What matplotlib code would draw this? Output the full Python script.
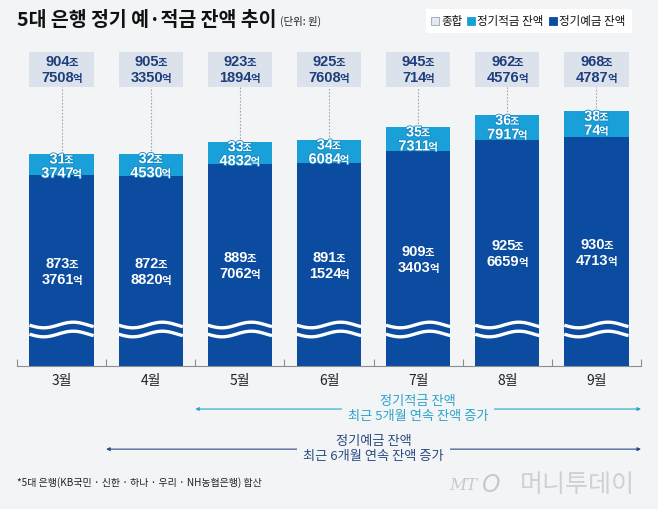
import numpy as np
import matplotlib

matplotlib.use('Agg')
import matplotlib.pyplot as plt
from matplotlib import font_manager, transforms
from matplotlib.patches import Rectangle
import matplotlib.patheffects as pe

# ---- data (조 / 억) ----
months = ['3월', '4월', '5월', '6월', '7월', '8월', '9월']
deposit_jo = [873, 872, 889, 891, 909, 925, 930]
deposit_eok = [3761, 8820, 7062, 1524, 3403, 6659, 4713]
saving_jo = [31, 32, 33, 34, 35, 36, 38]
saving_eok = [3747, 4530, 4832, 6084, 7311, 7917, 74]
total_jo = [904, 905, 923, 925, 945, 962, 968]
total_eok = [7508, 3350, 1894, 7608, 714, 4576, 4787]
saving_streak = 5
deposit_streak = 6

# ---- style ----
BG = '#f3f4f6'
DARK = '#0b4ca1'
LIGHT = '#19a0d8'
BOXC = '#dbe2eb'
NAVY = '#1d3d7b'
TEAL = '#2aa4c9'
ARROW2 = '#2a4a82'
W, H = 658, 509
BASE, YTOP = 589, 1075  # broken axis: bars start at BASE

plt.rcParams['font.family'] = ['Noto Sans CJK KR', 'DejaVu Sans']
names = {f.name for f in font_manager.fontManager.ttflist}
NUM_FONT = 'Liberation Sans Narrow' if 'Liberation Sans Narrow' in names else 'Liberation Sans'
NUM_SIZE = 11.5 if NUM_FONT == 'Liberation Sans Narrow' else 10.5

dep = np.array(deposit_jo) + np.array(deposit_eok) / 10000
sav = np.array(saving_jo) + np.array(saving_eok) / 10000
tot = dep + sav
x = np.arange(len(months))
bw = 0.72

fig = plt.figure(figsize=(W / 100, H / 100), dpi=100, facecolor=BG)
ax = fig.add_axes([17 / W, 1 - 366 / H, 624 / W, 326 / H])
ax.set_facecolor('none')
ax.set_xlim(-0.5, len(months) - 0.5)
ax.set_ylim(BASE, YTOP)
renderer = fig.canvas.get_renderer()


def put_pair(x0, y0, num, unit, trans, color, off_px=0, usize=7.5, effects=None):
    # number + small unit, centred together on (x0, y0)
    t1 = ax.text(x0, y0, num, fontsize=NUM_SIZE, family=NUM_FONT, weight='bold', color=color,
                 ha='left', va='baseline', clip_on=False)
    t2 = ax.text(x0, y0, unit, fontsize=usize, weight='bold', color=color,
                 ha='left', va='baseline', clip_on=False)
    w1 = t1.get_window_extent(renderer).width - 1.5
    w2 = t2.get_window_extent(renderer).width
    dy = (off_px - 0.36 * NUM_SIZE * 100 / 72) / 100
    t1.set_transform(trans + transforms.ScaledTranslation(-(w1 + w2) / 200, dy, fig.dpi_scale_trans))
    t2.set_transform(trans + transforms.ScaledTranslation((w1 - w2) / 200, dy, fig.dpi_scale_trans))
    if effects:
        t1.set_path_effects(effects)
        t2.set_path_effects(effects)


# bars
ax.bar(x, dep - BASE, bottom=BASE, width=bw, color=DARK, zorder=2)
ax.bar(x, sav, bottom=dep, width=bw, color=LIGHT, zorder=2)

# wavy break marks
ppu = 326 / (YTOP - BASE)
u = np.linspace(0, 1, 80)
for i in x:
    for off in (41, 32):
        ys = BASE + (off + 2.8 * np.sin(2 * np.pi * (u - 0.45) / 0.92)) / ppu
        ax.plot(i - bw / 2 + u * bw, ys, color='white', lw=2.4, solid_capstyle='butt', zorder=3)

# total boxes + dotted leaders
blend = transforms.blended_transform_factory(ax.transData, ax.transAxes)
for i in x:
    ax.add_patch(Rectangle((i - bw / 2, 0.856), bw, 0.107, transform=blend,
                           facecolor=BOXC, edgecolor='none', clip_on=False))
    ax.plot([i, i], [(tot[i] - BASE) / (YTOP - BASE), 0.856], transform=blend,
            color='#a3a7ad', lw=0.8, ls=(0, (1.5, 1.5)), zorder=1)
    put_pair(i, 0.936, str(total_jo[i]), '조', blend, NAVY)
    put_pair(i, 0.887, str(total_eok[i]), '억', blend, NAVY)

# value labels in bars
glow = [pe.withStroke(linewidth=1.2, foreground='#1487c2')]
for i in x:
    put_pair(i, tot[i], str(saving_jo[i]), '조', ax.transData, 'white', off_px=-4, effects=glow)
    put_pair(i, tot[i], str(saving_eok[i]), '억', ax.transData, 'white', off_px=-18, effects=glow)
    mid = (BASE + dep[i]) / 2
    put_pair(i, mid, str(deposit_jo[i]), '조', ax.transData, 'white', off_px=8)
    put_pair(i, mid, str(deposit_eok[i]), '억', ax.transData, 'white', off_px=-8)

# axis
for s in ['top', 'right', 'left']:
    ax.spines[s].set_visible(False)
ax.spines['bottom'].set_color('#8a8d92')
ax.spines['bottom'].set_linewidth(0.8)
ax.set_yticks([])
ax.set_xticks(np.arange(len(months) + 1) - 0.5)
ax.set_xticklabels([])
ax.tick_params(axis='x', direction='in', length=5, color='#8a8d92', width=0.8)
ax.set_xticks(x, minor=True)
ax.set_xticklabels(months, minor=True, fontsize=10, color='#222222')
ax.tick_params(axis='x', which='minor', length=0, pad=6)

# streak arrows
for streak, ypos, col, txt in [
        (saving_streak, -0.132, TEAL, '정기적금 잔액\n최근 {}개월 연속 잔액 증가'),
        (deposit_streak, -0.255, ARROW2, '정기예금 잔액\n최근 {}개월 연속 잔액 증가')]:
    x0 = len(months) - streak - 0.5
    x1 = len(months) - 0.5
    ax.annotate('', xy=(x1, ypos), xytext=(x0, ypos), xycoords=blend, textcoords=blend,
                arrowprops=dict(arrowstyle='<|-|>', color=col, lw=0.8, mutation_scale=5,
                                shrinkA=0, shrinkB=0), annotation_clip=False)
    ax.text((x0 + x1) / 2, ypos, txt.format(streak), transform=blend, ha='center', va='center',
            fontsize=9.5, color=col, linespacing=1.25,
            bbox=dict(boxstyle='square,pad=0.45', facecolor=BG, edgecolor='none'))

# title
t = fig.text(17 / W, 1 - 20 / H, '5대 은행 정기 예·적금 잔액 추이', fontsize=14, weight='bold',
             color='#111111', va='center', ha='left')
tw = t.get_window_extent(renderer).width
fig.text((17 + tw + 4) / W, 1 - 21 / H, '(단위: 원)', fontsize=7.5, color='#222222', va='center')

# legend
fig.patches.append(Rectangle((426 / W, 1 - 33 / H), 206 / W, 24 / H, transform=fig.transFigure,
                             facecolor='white', edgecolor='none'))
lx = 431
for lab, fc, ec in [('종합', '#e3e9f2', '#9aa3ae'), ('정기적금 잔액', LIGHT, LIGHT), ('정기예금 잔액', DARK, DARK)]:
    fig.patches.append(Rectangle((lx / W, 1 - 25 / H), 8 / W, 8 / H, transform=fig.transFigure,
                                 facecolor=fc, edgecolor=ec, lw=0.6))
    lt = fig.text((lx + 10) / W, 1 - 21 / H, lab, fontsize=8.3, color='#111111', va='center')
    lx += 10 + lt.get_window_extent(renderer).width + 5

# footnote and logo
fig.text(17 / W, 1 - 483 / H, '*5대 은행(KB국민 · 신한 · 하나 · 우리 · NH농협은행) 합산',
         fontsize=7.2, color='#222222', va='center')
fig.text(449 / W, 1 - 485 / H, 'MT', fontsize=12, style='italic', family='DejaVu Serif',
         color='#c6cad0', va='center')
fig.text(481 / W, 1 - 485 / H, 'O', fontsize=17, style='italic', family='DejaVu Sans',
         color='#c6cad0', va='center')
fig.text(520 / W, 1 - 485 / H, '머니투데이', fontsize=18, color='#cdd1d6', va='center')

fig.savefig('out.png', dpi=100, facecolor=BG)
